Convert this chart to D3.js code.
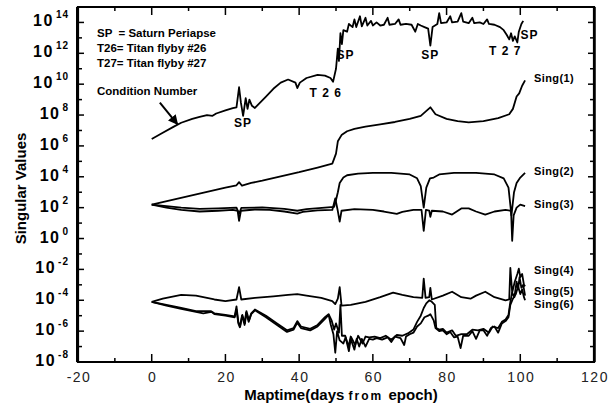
<!DOCTYPE html>
<html>
<head>
<meta charset="utf-8">
<script src="https://cdn.jsdelivr.net/npm/d3@7"></script>
<style>
  body { margin: 0; background: #fff; }
  text { font-family: "Liberation Sans", Arial, sans-serif; fill: #000; }
</style>
</head>
<body>
<svg id="chart" width="609" height="408"></svg>
<script>

// data: [maptime (days), log10 of singular value]
var condNumber = [[0,6.45],[3,6.85],[6,7.25],[8,7.5],[11,7.75],[13,7.88],[15,8.0],[16.5,7.95],[17.5,8.1],[20,8.3],[22,8.45],[23,8.5],[23.7,9.8],[24.2,8.8],[24.8,7.95],[25.5,9.1],[26,8.4],[26.5,9.0],[27.2,8.6],[28,8.46],[31,9.2],[33,9.7],[35,10.1],[37,10.3],[39,10.1],[39.5,9.75],[40.2,10.1],[42,10.4],[45,10.6],[47,10.55],[48.5,10.4],[49.2,10.15],[50,11.0],[50.5,12.3],[50.8,11.5],[51.2,13.3],[51.6,12.6],[52,13.5],[53,13.4],[53.5,13.9],[54.5,13.7],[55,14.2],[55.5,13.7],[56.5,14.4],[57,13.75],[58,14.3],[58.5,13.8],[59.5,14.1],[60,13.8],[61,14.0],[62,13.8],[63,13.85],[64,14.3],[64.5,13.85],[66,13.9],[67,14.2],[67.5,13.85],[69,13.9],[70.5,13.85],[71.5,13.4],[72.2,13.9],[73,13.8],[74,13.7],[75,13.6],[75.6,12.5],[76.2,13.7],[77.5,13.9],[78,14.6],[78.5,13.95],[80,14.0],[81,14.4],[81.5,14.0],[83,14.05],[84,14.6],[84.5,14.05],[86,13.95],[87,14.3],[87.5,13.95],[89,14.0],[90,13.9],[91,14.2],[91.5,13.9],[93,13.85],[94.5,13.7],[95.5,13.5],[96.3,13.2],[97,12.9],[97.5,13.3],[98,12.8],[98.5,13.1],[99.2,12.7],[99.6,13.4],[100.3,13.9],[100.8,14.1]];

var sing1 = [[0,2.2],[5,2.47],[10,2.75],[15,3.02],[20,3.3],[23,3.45],[23.7,3.65],[24.5,3.42],[27,3.6],[30,3.75],[35,4.03],[40,4.3],[45,4.6],[49,4.85],[50,5.5],[50.5,6.3],[51.5,6.7],[53,6.95],[55,7.1],[58,7.25],[62,7.4],[66,7.55],[70,7.75],[73,7.95],[75.6,8.5],[77,8.05],[80,7.75],[83,7.6],[86,7.52],[90,7.6],[94,7.8],[97,8.05],[98,8.4],[99,9.2],[99.7,9.4],[100.5,9.9],[101.3,10.25]];

var sing2 = [[0,2.2],[4,2.1],[8,2.0],[13,1.92],[18,1.95],[23,2.0],[23.7,1.6],[24.3,1.98],[30,2.02],[36,1.92],[39.5,1.8],[42,1.9],[47,2.0],[49.5,2.05],[50,2.5],[50.5,3.0],[51,3.6],[52,3.95],[53,4.1],[56,4.2],[60,4.25],[65,4.25],[70,4.15],[72,3.9],[73,3.4],[73.8,2.0],[74.5,3.3],[75.5,3.9],[76.5,3.95],[78,4.15],[82,4.25],[88,4.25],[93,4.15],[95.5,3.9],[96.8,3.3],[97.6,1.5],[98.3,3.0],[99,3.6],[100,3.95],[101.3,4.25]];

var sing3 = [[0,2.2],[4,2.0],[8,1.85],[13,1.75],[18,1.8],[22,1.85],[23.3,1.8],[23.7,1.15],[24.2,1.8],[28,1.88],[32,1.85],[36,1.75],[39.5,1.62],[41,1.72],[45,1.82],[49,1.85],[49.8,2.6],[50.4,1.9],[51,1.1],[51.5,1.8],[55,1.9],[60,1.85],[63,1.75],[66.5,1.6],[68,1.72],[71,1.85],[73.2,1.85],[73.8,0.5],[74.4,1.85],[75.3,1.8],[75.6,1.4],[76,1.8],[79,1.75],[81.5,1.55],[84,1.95],[86,1.95],[88,1.75],[90.5,1.55],[93,1.75],[96,1.85],[97.5,1.8],[97.8,-0.15],[98.2,1.5],[99,2.0],[100,2.2],[101.3,2.1]];

var sing4 = [[0,-4.1],[3,-3.9],[8,-3.65],[12,-3.7],[17,-3.95],[20,-4.05],[23,-3.95],[23.7,-3.15],[24.3,-3.95],[28,-3.85],[33,-3.75],[37,-3.65],[39.5,-3.6],[42,-3.7],[46,-3.85],[49,-4.05],[49.8,-4.25],[50.5,-3.9],[51,-3.15],[51.5,-4.35],[54,-4.3],[58,-4.1],[62,-3.8],[65.5,-3.5],[68,-3.65],[71,-3.8],[73.4,-3.85],[73.8,-2.6],[74.3,-3.85],[75.3,-3.8],[75.6,-3.2],[76,-3.95],[79,-3.7],[81.5,-3.45],[84,-3.8],[86.5,-3.9],[88,-3.7],[90.5,-3.45],[93,-3.8],[96,-4.0],[97,-3.95],[97.3,-1.9],[97.8,-3.5],[98.5,-2.8],[99.2,-2.3],[99.6,-1.95],[100,-2.5],[100.5,-2.3],[101,-3.0],[101.3,-3.1]];

var sing5 = [[0,-4.1],[4,-4.3],[8,-4.5],[12,-4.7],[16,-4.7],[17,-4.85],[20,-4.95],[22.5,-5.05],[23,-4.4],[23.5,-5.4],[24,-5.7],[24.6,-4.95],[25.3,-5.5],[25.7,-4.7],[26.4,-5.3],[27,-4.85],[28,-4.6],[31,-5.0],[34,-5.5],[36.7,-5.95],[38.5,-5.8],[39.5,-5.35],[40.5,-5.7],[43,-5.85],[45,-5.6],[47,-5.1],[48,-4.9],[48.8,-5.3],[49.5,-5.9],[50,-5.5],[50.8,-6.1],[51.2,-4.3],[51.6,-6.3],[52.5,-6.3],[53.4,-7.0],[54,-6.35],[55.2,-6.9],[56,-6.3],[57.2,-6.8],[58,-6.35],[59,-6.4],[60.5,-6.35],[62,-6.45],[63.5,-6.3],[65,-6.55],[66.5,-6.25],[68,-6.3],[69.5,-6.15],[71,-5.9],[72,-5.4],[73,-5.0],[73.8,-4.5],[74.5,-4.2],[75.3,-4.0],[76,-4.1],[76.8,-4.3],[77.2,-5.8],[78,-5.9],[79,-5.85],[80,-6.1],[81.5,-5.95],[82.5,-6.3],[84,-6.2],[85.5,-6.2],[87,-5.9],[88.5,-5.95],[90,-5.85],[91.5,-6.1],[92.5,-5.7],[94,-5.8],[95,-5.4],[96,-5.25],[96.8,-4.95],[97.3,-4.1],[97.8,-3.5],[98.4,-3.8],[99,-2.8],[99.4,-3.3],[99.8,-2.5],[100.3,-3.2],[100.8,-3.0],[101.3,-3.7]];

var sing6 = [[0,-4.1],[4,-4.35],[8,-4.55],[12,-4.75],[14,-4.85],[16.2,-4.75],[17,-4.9],[20,-5.0],[22.5,-5.1],[23,-4.6],[23.5,-5.5],[23.9,-5.75],[24.5,-5.0],[25.2,-5.6],[25.6,-4.8],[26.3,-5.4],[27,-4.9],[28,-4.65],[31,-5.1],[34,-5.6],[36.7,-6.05],[38.5,-5.9],[39.5,-5.45],[40.5,-5.8],[43,-5.95],[45,-5.7],[47,-5.2],[48,-4.95],[48.6,-5.6],[49.3,-6.2],[49.8,-7.4],[50.3,-6.0],[51,-6.6],[52,-6.8],[52.6,-6.4],[53.5,-7.3],[54,-6.5],[55,-7.2],[55.6,-6.5],[56.3,-7.0],[57,-6.5],[58,-7.0],[59,-6.5],[60,-6.55],[61,-6.45],[62.5,-6.55],[64,-6.4],[65,-6.7],[66,-6.35],[67.5,-6.45],[68.5,-6.9],[69,-6.35],[70,-6.2],[71,-6.1],[72,-5.7],[73,-5.5],[74,-5.1],[75,-5.0],[75.6,-4.9],[76.5,-5.3],[77,-5.8],[78,-6.0],[79,-5.95],[80,-6.2],[81,-6.05],[82,-6.4],[83,-6.35],[83.8,-7.1],[84.5,-6.3],[86,-6.3],[87,-6.0],[88,-6.5],[89,-5.95],[90,-5.95],[91,-6.3],[92,-5.8],[93,-5.7],[94,-6.1],[95,-5.5],[96,-5.35],[96.8,-5.1],[97.3,-4.3],[98,-3.9],[98.8,-3.6],[99.4,-3.1],[100,-3.6],[100.5,-3.3],[101,-3.8],[101.3,-4.0]];

var xTicks = [-20, 0, 20, 40, 60, 80, 100, 120];
var yExponents = [14, 12, 10, 8, 6, 4, 2, 0, -2, -4, -6, -8];

var seriesLabels = [
    { text: "Sing(1)", e: 10.15 },
    { text: "Sing(2)", e: 4.1 },
    { text: "Sing(3)", e: 2.0 },
    { text: "Sing(4)", e: -2.3 },
    { text: "Sing(5)", e: -3.65 },
    { text: "Sing(6)", e: -4.5 }
];

// event labels on the condition number curve
var eventLabels = [
    { text: "SP", t: 24.8, e: 7.25 },
    { text: "T 2 6", t: 47.2, e: 9.2 },
    { text: "SP", t: 52.6, e: 11.6 },
    { text: "SP", t: 75.6, e: 11.6 },
    { text: "T 2 7", t: 95.9, e: 11.9 },
    { text: "SP", t: 102.5, e: 12.9 }
];

var legendLines = ["SP  = Saturn Periapse", "T26= Titan flyby #26", "T27= Titan flyby #27"];

function drawChart() {
    var svg = d3.select("#chart");

    const margin = { top: 7, right: 15, bottom: 46, left: 78 };
    const width = 609, height = 408;
    const Innerwidth = width - margin.left - margin.right;
    const Innerheight = height - margin.top - margin.bottom;

    var xScale = d3.scaleLinear()
        .domain([-20, 120])
        .range([margin.left, margin.left + Innerwidth]);

    var yScale = d3.scaleLog()
        .domain([1e-8, 1e15])
        .range([margin.top + Innerheight, margin.top]);

    var yPos = function (e) { return yScale(Math.pow(10, e)); };

    var x0 = margin.left, x1 = margin.left + Innerwidth;
    var y0 = margin.top + Innerheight, y1 = margin.top;

    // tick marks, all pointing inward
    var decades = d3.range(-8, 16);
    var tickG = svg.append("g").attr("stroke", "#000").attr("stroke-width", 1.5);
    decades.forEach(function (e) {
        var len = (e % 2 === 0) ? 6 : 4;
        tickG.append("line").attr("x1", x0).attr("x2", x0 + len).attr("y1", yPos(e)).attr("y2", yPos(e));
        tickG.append("line").attr("x1", x1).attr("x2", x1 - len).attr("y1", yPos(e)).attr("y2", yPos(e));
    });
    d3.range(-20, 121, 10).forEach(function (t) {
        var len = (t % 20 === 0) ? 8 : 4;
        tickG.append("line").attr("x1", xScale(t)).attr("x2", xScale(t)).attr("y1", y0).attr("y2", y0 - len);
        tickG.append("line").attr("x1", xScale(t)).attr("x2", xScale(t)).attr("y1", y1).attr("y2", y1 + len);
    });

    // frame
    svg.append("path")
        .attr("d", `M${x0},${y1} H${x1} V${y0} H${x0} Z`)
        .attr("fill", "none")
        .attr("stroke", "#000")
        .attr("stroke-width", 2.2);
    svg.append("line")
        .attr("x1", x0 - 0.5).attr("x2", x0 - 0.5).attr("y1", y1).attr("y2", y0)
        .attr("stroke", "#000").attr("stroke-width", 3);
    svg.append("line")
        .attr("x1", x1 + 0.5).attr("x2", x1 + 0.5).attr("y1", y1).attr("y2", y0)
        .attr("stroke", "#000").attr("stroke-width", 2.5);

    // x tick labels
    svg.selectAll(".xlab")
        .data(xTicks)
        .enter()
        .append("text")
        .attr("class", "xlab")
        .attr("x", function (d) { return xScale(d) + 1; })
        .attr("y", 382)
        .attr("text-anchor", "middle")
        .style("font-size", "14px")
        .style("letter-spacing", "1.5px")
        .style("fill", "#222")
        .text(function (d) { return d; });

    // y tick labels, 10 with exponent
    var ylab = svg.selectAll(".ylab")
        .data(yExponents)
        .enter()
        .append("text")
        .attr("class", "ylab")
        .attr("x", 69)
        .attr("y", function (d) { return yPos(d) + 4; })
        .attr("text-anchor", "end")
        .style("font-weight", "bold");
    ylab.append("tspan")
        .style("font-size", "16px")
        .style("letter-spacing", "1.5px")
        .text("10");
    ylab.append("tspan")
        .attr("dx", 2)
        .attr("dy", -8)
        .style("font-size", "10px")
        .style("letter-spacing", "1px")
        .text(function (d) { return d < 0 ? "-" + (-d) : d; });

    // axis titles
    svg.append("text")
        .attr("transform", `translate(26,${(y0 + y1) / 2 + 4}) rotate(-90)`)
        .attr("text-anchor", "middle")
        .style("font-size", "15px")
        .style("font-weight", "bold")
        .text("Singular Values");

    var xt = svg.append("text")
        .attr("x", (x0 + x1) / 2 + 5)
        .attr("y", 400)
        .attr("text-anchor", "middle")
        .style("font-weight", "bold")
        .style("font-size", "15px");
    xt.append("tspan").text("Maptime(days ");
    xt.append("tspan").style("font-size", "12px").style("letter-spacing", "2px").text("from ");
    xt.append("tspan").text("epoch)");

    // curves
    var line = d3.line()
        .x(function (d) { return xScale(d[0]); })
        .y(function (d) { return yPos(d[1]); });

    [condNumber, sing1, sing2, sing3, sing4, sing5, sing6].forEach(function (s) {
        svg.append("path")
            .datum(s)
            .attr("fill", "none")
            .attr("stroke", "#000")
            .attr("stroke-width", 1.8)
            .attr("stroke-linejoin", "round")
            .attr("d", line);
    });

    // series labels on the right
    svg.selectAll(".slab")
        .data(seriesLabels)
        .enter()
        .append("text")
        .attr("class", "slab")
        .attr("x", 534)
        .attr("y", function (d) { return yPos(d.e); })
        .style("font-size", "11px")
        .style("font-weight", "bold")
        .style("letter-spacing", "0.4px")
        .text(function (d) { return d.text; });

    // event labels
    svg.selectAll(".elab")
        .data(eventLabels)
        .enter()
        .append("text")
        .attr("class", "elab")
        .attr("x", function (d) { return xScale(d.t); })
        .attr("y", function (d) { return yPos(d.e); })
        .attr("text-anchor", "middle")
        .style("font-size", "12px")
        .style("font-weight", "bold")
        .style("letter-spacing", "1px")
        .text(function (d) { return d.text; });

    // legend text
    svg.selectAll(".leg")
        .data(legendLines)
        .enter()
        .append("text")
        .attr("class", "leg")
        .attr("x", 97)
        .attr("y", function (d, i) { return 37 + i * 15; })
        .style("font-size", "11.5px")
        .style("font-weight", "bold")
        .style("white-space", "pre")
        .text(function (d) { return d; });

    // condition number note with arrow
    svg.append("text")
        .attr("x", 97)
        .attr("y", 95)
        .style("font-size", "11.5px")
        .style("font-weight", "bold")
        .text("Condition Number");

    svg.append("defs").append("marker")
        .attr("id", "arrow")
        .attr("viewBox", "0 0 10 10")
        .attr("refX", 9).attr("refY", 5)
        .attr("markerWidth", 5).attr("markerHeight", 5)
        .attr("orient", "auto")
        .append("path")
        .attr("d", "M0,0 L10,5 L0,10 Z")
        .attr("fill", "#000");

    svg.append("line")
        .attr("x1", xScale(2.2)).attr("y1", yPos(8.8))
        .attr("x2", xScale(7)).attr("y2", yPos(7.4))
        .attr("stroke", "#000")
        .attr("stroke-width", 2)
        .attr("marker-end", "url(#arrow)");
}

drawChart();
</script>
</body>
</html>
